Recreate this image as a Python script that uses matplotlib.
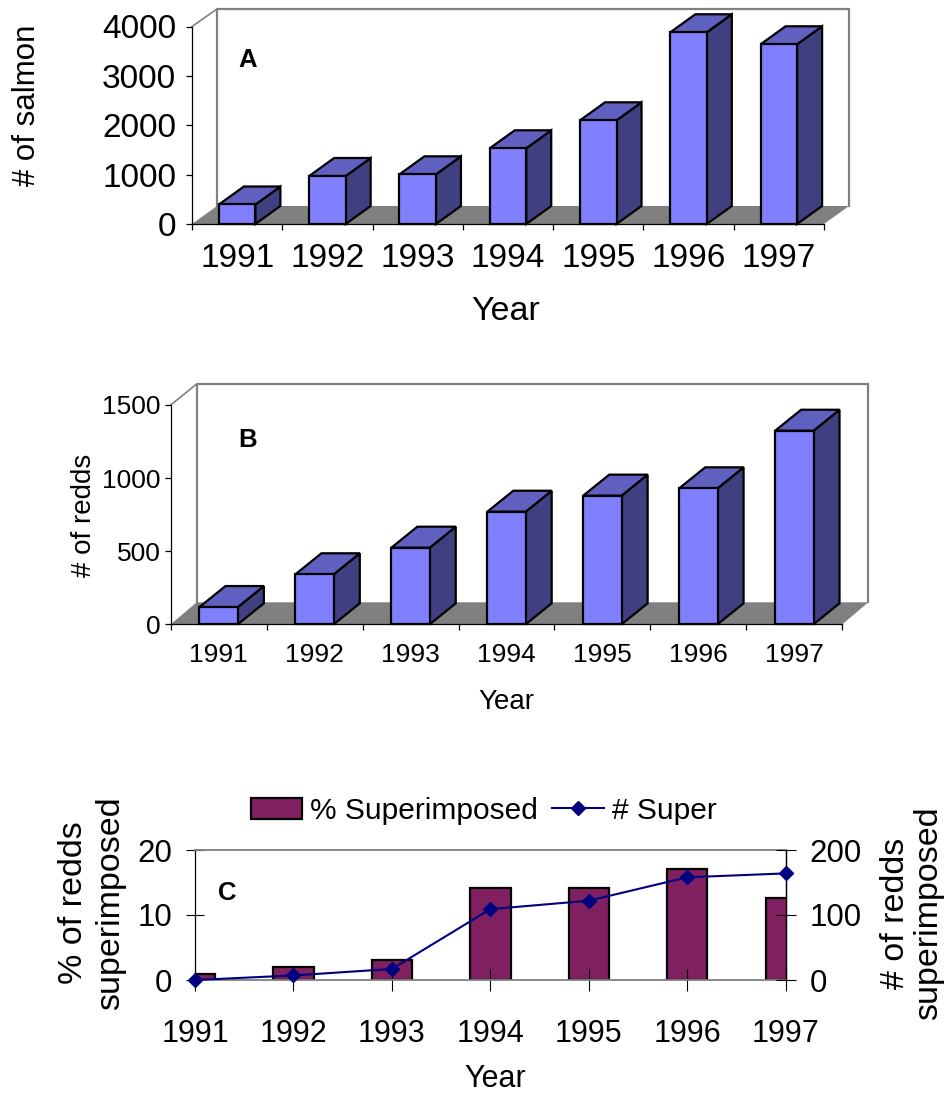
import matplotlib
matplotlib.use("Agg")
import matplotlib.pyplot as plt
from matplotlib.patches import Polygon, Patch
from matplotlib.lines import Line2D

W, H = 947, 1095

years = ["1991", "1992", "1993", "1994", "1995", "1996", "1997"]
salmon = [395, 972, 1006, 1533, 2100, 3883, 3640]
redds = [118, 342, 524, 770, 880, 930, 1324]
pct_super = [1.0, 2.05, 3.08, 14.2, 14.2, 17.1, 12.6]
num_super = [0, 7, 17, 109, 122, 158, 164]

plt.rcParams['font.family'] = ['Liberation Sans', 'DejaVu Sans']

FRONT = "#8080ff"
TOP = "#6060c0"
SIDE = "#404080"
GREY = "#808080"
PLUM = "#802060"
NAVY = "#000080"


def make_axes(fig, left, right, top, bottom):
	# axes box given in pixels of the final image
	return fig.add_axes([left / W, 1 - bottom / H, (right - left) / W, (bottom - top) / H])


def bars_3d(ax, values, ymax, depth_x, depth_y, floor_y, wall_top, bar_w):
	# depth is in pixels, turn it into data units through the axes size
	box = ax.get_position()
	px_x = box.width * W / len(values)
	px_y = box.height * H / ymax
	dx = depth_x / px_x
	dy = depth_y / px_y
	fx = depth_x / px_x
	fy = floor_y / px_y
	n = len(values)
	wall = wall_top / px_y

	ax.set_xlim(0, n)
	ax.set_ylim(0, ymax)

	# floor and back wall
	ax.add_patch(Polygon([(0, 0), (fx, fy), (n + fx, fy), (n, 0)], closed=True, fc=GREY, ec="none", clip_on=False, zorder=1))
	ax.plot([fx, fx, n + fx, n + fx], [fy, ymax + wall, ymax + wall, fy], color=GREY, lw=1.6, clip_on=False, zorder=1, solid_joinstyle="miter")
	ax.plot([0, fx], [ymax, ymax + wall], color=GREY, lw=1.2, clip_on=False, zorder=1)

	for i, v in enumerate(values):
		x0 = i + 0.5 - bar_w / 2
		x1 = i + 0.5 + bar_w / 2
		ax.add_patch(Polygon([(x1, 0), (x1 + dx, dy), (x1 + dx, v + dy), (x1, v)], closed=True, fc=SIDE, ec="black", lw=1.6, clip_on=False, zorder=3, joinstyle="miter"))
		ax.add_patch(Polygon([(x0, v), (x0 + dx, v + dy), (x1 + dx, v + dy), (x1, v)], closed=True, fc=TOP, ec="black", lw=1.6, clip_on=False, zorder=3, joinstyle="miter"))
		ax.bar(i + 0.5, v, width=bar_w, color=FRONT, edgecolor="black", linewidth=1.6, clip_on=False, zorder=4)

	for s in ["top", "right"]:
		ax.spines[s].set_visible(False)
	ax.spines["left"].set_linewidth(0.9)
	ax.spines["bottom"].set_linewidth(0.9)
	ax.set_xticks(range(n + 1))
	ax.set_xticklabels([])
	ax.set_xticks([i + 0.5 for i in range(n)], minor=True)


fig = plt.figure(figsize=(W / 100, H / 100), dpi=100, facecolor="white")

# ------------ panel A ------------
ax_a = make_axes(fig, 192, 824, 26.5, 224)
bars_3d(ax_a, salmon, 4000, 25, 18, 18, 17.5, 0.404)
ax_a.set_yticks([0, 1000, 2000, 3000, 4000])
ax_a.tick_params(axis="y", labelsize=24, length=4.3, width=0.9, pad=7)
ax_a.tick_params(axis="x", which="major", length=4.3, width=0.9)
ax_a.tick_params(axis="x", which="minor", length=0, labelsize=24, pad=14)
ax_a.set_xticklabels(years, minor=True)
ax_a.set_xlabel("Year", fontsize=24.5)
ax_a.xaxis.set_label_coords((506 - 192) / 632, -(312 - 224) / 197.5)
ax_a.xaxis.label.set_va("center")
ax_a.set_ylabel("# of salmon", fontsize=22.5)
ax_a.yaxis.set_label_coords((27 - 192) / 632, (224 - 105) / 197.5)
ax_a.yaxis.label.set_va("center")
ax_a.text((248 - 192) / 632, (224 - 60) / 197.5, "A", transform=ax_a.transAxes, fontsize=18.5, fontweight="bold", ha="center", va="center", zorder=6)

# ------------ panel B ------------
ax_b = make_axes(fig, 170.7, 842.3, 405, 624.3)
bars_3d(ax_b, redds, 1500, 26, 21, 22, 21, 0.4)
ax_b.set_yticks([0, 500, 1000, 1500])
ax_b.tick_params(axis="y", labelsize=19, length=4.3, width=0.9, pad=3)
ax_b.tick_params(axis="x", which="major", length=4.3, width=0.9)
ax_b.tick_params(axis="x", which="minor", length=0, labelsize=19, pad=13.5)
ax_b.set_xticklabels(years, minor=True)
ax_b.set_xlabel("Year", fontsize=20)
ax_b.xaxis.set_label_coords((506 - 170.7) / 671.6, -(702 - 624.3) / 219.3)
ax_b.xaxis.label.set_va("center")
ax_b.set_ylabel("# of redds", fontsize=20)
ax_b.yaxis.set_label_coords((84 - 170.7) / 671.6, (624.3 - 515) / 219.3)
ax_b.yaxis.label.set_va("center")
ax_b.text((248 - 170.7) / 671.6, (624.3 - 440) / 219.3, "B", transform=ax_b.transAxes, fontsize=18.5, fontweight="bold", ha="center", va="center", zorder=6)

# ------------ panel C ------------
ax_c = make_axes(fig, 195, 785.7, 850, 980)
x_c = list(range(len(years)))
ax_c.bar(x_c, pct_super, width=0.41, color=PLUM, edgecolor="black", linewidth=1.6, zorder=1)
ax_c.set_xlim(0, 6)
ax_c.set_ylim(0, 20)
ax_c.set_yticks([0, 10, 20])
ax_c.set_xticks(x_c)
ax_c.set_xticklabels(years)
ax_c.tick_params(axis="x", direction="inout", length=16.3, width=0.8, labelsize=22, pad=20)
ax_c.tick_params(axis="y", direction="inout", length=13.4, width=0.8, labelsize=22.5, pad=9.5)
for s in ["top", "bottom"]:
	ax_c.spines[s].set_color(GREY)
	ax_c.spines[s].set_linewidth(1.3)
ax_c.spines["left"].set_linewidth(0.9)
ax_c.spines["right"].set_linewidth(0.9)
ax_c.set_xlabel("Year", fontsize=22)
ax_c.xaxis.set_label_coords((495 - 195) / 590.7, -(1079 - 980) / 130)
ax_c.xaxis.label.set_va("center")
ax_c.set_ylabel("% of redds\nsuperimposed", fontsize=24.5, linespacing=1.28)
ax_c.yaxis.set_label_coords((92 - 195) / 590.7, (980 - 903) / 130)
ax_c.yaxis.label.set_va("center")
ax_c.text((227 - 195) / 590.7, (980 - 893) / 130, "C", transform=ax_c.transAxes, fontsize=18.5, fontweight="bold", ha="center", va="center")

ax_r = ax_c.twinx()
ax_r.plot(x_c, num_super, color=NAVY, lw=1.5, marker="D", ms=6.8, mfc=NAVY, mec=NAVY, clip_on=False, zorder=5)
ax_r.set_ylim(0, 200)
ax_r.set_yticks([0, 100, 200])
ax_r.tick_params(axis="y", direction="inout", length=14, width=0.8, labelsize=22.5, pad=10)
for s in ["top", "bottom", "left"]:
	ax_r.spines[s].set_visible(False)
ax_r.spines["right"].set_linewidth(0.9)
ax_r.set_ylabel("# of redds\nsuperimposed", fontsize=24.5, linespacing=1.1)
ax_r.yaxis.set_label_coords((912 - 195) / 590.7, (980 - 913) / 130)
ax_r.yaxis.label.set_va("center")

handles = [
	Patch(fc=PLUM, ec="black", lw=1.6, label="% Superimposed"),
	Line2D([], [], color=NAVY, lw=1.5, marker="D", ms=6.8, label="# Super"),
]
ax_r.legend(handles=handles, ncol=2, frameon=False, loc="center left", fontsize=21.5,
	bbox_to_anchor=((251 - 195) / 590.7, (980 - 811) / 130), borderpad=0, borderaxespad=0,
	handlelength=1.72, handleheight=0.72, handletextpad=0.27, columnspacing=0.47)

fig.savefig("out.png", dpi=100, facecolor="white")
